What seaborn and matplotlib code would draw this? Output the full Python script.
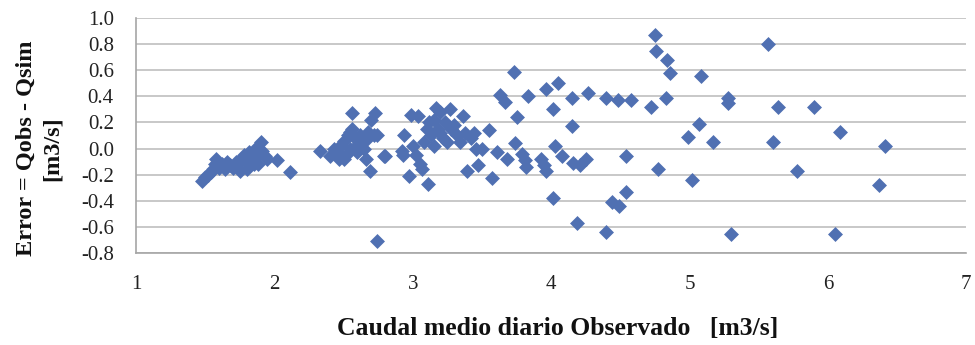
import matplotlib
matplotlib.use("Agg")
import matplotlib.pyplot as plt
import seaborn as sns
import pandas as pd

sns.set_theme(style="white")
plt.rcParams['font.family'] = ['Liberation Serif', 'DejaVu Serif']
plt.rcParams['axes.unicode_minus'] = False

# observed mean daily flow [m3/s]
caudal_obs = [
    1.48, 1.50, 1.52, 1.54, 1.56, 1.57, 1.58, 1.60, 1.62, 1.64, 1.66, 1.68,
    1.70, 1.72, 1.74, 1.76, 1.78, 1.80, 1.80, 1.82, 1.84, 1.85, 1.86, 1.88,
    1.90, 1.91, 1.93, 1.95, 2.02, 2.11, 1.75, 1.88,
    2.33, 2.40, 2.45, 2.47, 2.48, 2.50, 2.52, 2.53, 2.55, 2.55, 2.56, 2.58,
    2.60, 2.60, 2.62, 2.63, 2.65, 2.67, 2.68, 2.70, 2.72, 2.73, 2.69, 2.79,
    2.74, 2.80, 2.50, 2.43, 2.56, 2.66, 2.74,
    2.99, 2.94, 2.92, 2.97, 3.00, 3.02, 3.04, 3.05, 3.07, 3.08, 3.10, 3.11,
    3.12, 3.13, 3.15, 3.15, 3.17, 3.18, 3.20, 3.22, 3.23, 3.25, 3.27, 3.28,
    3.30, 3.32, 3.34, 3.36, 3.38, 3.39, 3.42, 3.44, 3.46, 3.47, 3.50, 3.55,
    3.57, 3.61, 3.68, 3.20, 2.93,
    3.73, 3.63, 3.67, 3.75, 3.83, 3.74, 3.79, 3.81, 3.82, 3.93, 3.95, 3.96,
    3.96, 4.05, 4.01, 4.01, 4.03, 4.08, 4.15, 4.15, 4.16, 4.21, 4.25, 4.19,
    4.27, 4.40, 4.48, 4.58, 4.40, 4.44, 4.49, 4.54, 4.54,
    4.75, 4.76, 4.84, 4.86, 4.72, 4.83, 4.77, 4.99, 5.02, 5.08, 5.07,
    5.28, 5.28, 5.17, 5.30, 5.57, 5.64, 5.60, 5.78, 5.90, 6.09, 6.05, 6.37,
    6.41,
]

# error = Qobs - Qsim [m3/s]
error = [
    -0.25, -0.22, -0.20, -0.18, -0.16, -0.12, -0.08, -0.15, -0.12, -0.16, -0.10, -0.13,
    -0.15, -0.10, -0.12, -0.08, -0.05, -0.10, -0.16, -0.03, -0.08, -0.12, 0.00, -0.05,
    0.05, -0.02, -0.06, -0.08, -0.09, -0.18, -0.17, -0.12,
    -0.02, -0.06, -0.02, -0.08, 0.03, 0.06, -0.05, 0.10, 0.13, 0.00, 0.27, 0.08,
    0.03, -0.03, 0.10, 0.05, 0.00, 0.07, 0.13, 0.22, 0.10, 0.27, -0.17, -0.06,
    0.10, -0.06, -0.08, 0.00, 0.15, -0.08, -0.71,
    0.26, 0.10, -0.02, -0.21, 0.02, -0.05, 0.25, -0.12, -0.16, 0.05, 0.15, -0.27,
    0.20, 0.10, 0.22, 0.02, 0.31, 0.15, 0.28, 0.08, 0.20, 0.05, 0.30, 0.15,
    0.18, 0.10, 0.05, 0.25, 0.12, -0.17, 0.08, 0.12, 0.00, -0.13, 0.00, 0.14,
    -0.23, -0.03, -0.08, 0.12, -0.05,
    0.59, 0.41, 0.36, 0.24, 0.40, 0.04, -0.04, -0.09, -0.14, -0.08, -0.13, -0.17,
    0.46, 0.50, 0.30, -0.38, 0.02, -0.06, 0.17, 0.39, -0.11, -0.13, -0.08, -0.57,
    0.43, 0.39, 0.37, 0.37, -0.64, -0.41, -0.44, -0.33, -0.06,
    0.87, 0.75, 0.68, 0.58, 0.32, 0.39, -0.16, 0.09, -0.24, 0.56, 0.19,
    0.39, 0.35, 0.05, -0.66, 0.80, 0.32, 0.05, -0.17, 0.32, 0.13, -0.66, -0.28,
    0.02,
]

y_ticks = [-0.8, -0.6, -0.4, -0.2, 0.0, 0.2, 0.4, 0.6, 0.8, 1.0]
x_ticks = [1, 2, 3, 4, 5, 6, 7]

df = pd.DataFrame({"caudal": caudal_obs, "error": error})

fig = plt.figure(figsize=(9.75, 3.45), dpi=100)
ax = fig.add_axes([0.1395, 0.2675, 0.8515, 0.6795])

sns.scatterplot(data=df, x="caudal", y="error", marker="D", s=58,
                color="#5070B2", linewidth=0, ax=ax, zorder=3)

ax.set_xlim(1, 7)
ax.set_ylim(-0.8, 1.0)
ax.set_xticks(x_ticks)
ax.set_yticks(y_ticks)
ax.set_yticklabels([f"{v:.1f}" for v in y_ticks])
ax.tick_params(axis="both", length=0, labelsize=15, colors="#222222")
ax.tick_params(axis="x", pad=16)
ax.tick_params(axis="y", pad=16)
ax.grid(axis="y", color="#BFBFBF", linewidth=1.2)
ax.set_axisbelow(True)
for side in ["top", "right"]:
    ax.spines[side].set_visible(False)
for side in ["left", "bottom"]:
    ax.spines[side].set_color("#A6A6A6")
    ax.spines[side].set_linewidth(1.2)
ax.set_xlabel("")
ax.set_ylabel("")

fig.text(0.04, 0.57, "Error = Qobs - Qsim\n[m3/s]", rotation=90,
         ha="center", va="center", multialignment="center", linespacing=1.3,
         fontsize=17.5, fontweight="bold", color="#111111")
fig.text(0.572, 0.049, "Caudal medio diario Observado   [m3/s]",
         ha="center", va="center", fontsize=18.5, fontweight="bold", color="#111111")

fig.savefig("out.png", dpi=100)
